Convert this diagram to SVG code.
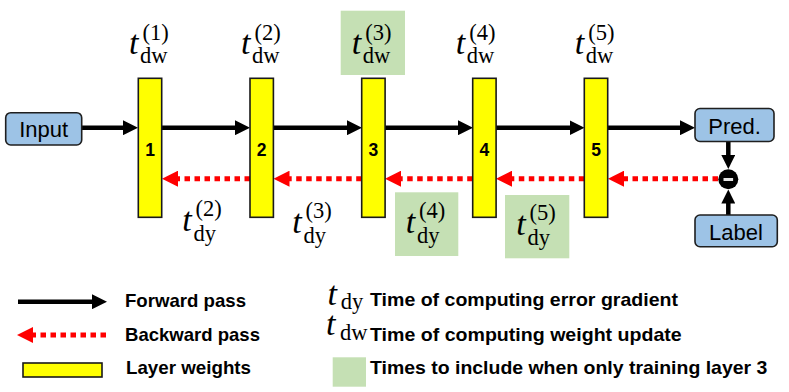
<svg xmlns="http://www.w3.org/2000/svg" width="789" height="392" viewBox="0 0 789 392">
<style>
.bar{fill:#FFFF00;stroke:#1a1a1a;stroke-width:1.6}
.box{fill:#9DC3E6;stroke:#1f1f1f;stroke-width:1.6}
.hl{fill:#C5E0B4}
.fw{stroke:#000;stroke-width:4.5;fill:none}
.bw{stroke:#FF0000;stroke-width:5;fill:none;stroke-dasharray:5.5 4.5}
.num{font-family:"Liberation Sans",Arial,sans-serif;font-weight:bold;font-size:17.5px;text-anchor:middle;fill:#000}
.lbl{font-family:"Liberation Sans",Arial,sans-serif;font-size:22px;text-anchor:middle;fill:#000}
.leg{font-family:"Liberation Sans",Arial,sans-serif;font-weight:bold;font-size:19px;fill:#000}
.m{font-family:"Liberation Serif","Times New Roman",serif;font-size:22.5px;fill:#000}
.mt{font-style:italic;font-size:34px}
</style>
<defs>
<marker id="ah" markerUnits="userSpaceOnUse" markerWidth="15" markerHeight="15" refX="5" refY="7.5" orient="auto">
<path d="M0,0 L15,7.5 L0,15 z" fill="#000"/>
</marker>
<marker id="ahs" markerUnits="userSpaceOnUse" markerWidth="14" markerHeight="14" refX="4" refY="7" orient="auto">
<path d="M0,0 L14,7 L0,14 z" fill="#000"/>
</marker>
<marker id="rh" markerUnits="userSpaceOnUse" markerWidth="16" markerHeight="16" refX="4" refY="8" orient="auto">
<path d="M0,0 L16,8 L0,16 z" fill="#FF0000"/>
</marker>
</defs>

<g id="highlights">
<rect class="hl" x="340.7" y="10.7" width="64.3" height="64.3"/>
<rect class="hl" x="395" y="192.3" width="63.3" height="63.7"/>
<rect class="hl" x="505" y="195" width="64.3" height="63.3"/>
</g>

<g id="connectors">
<line class="fw" x1="82" y1="127.7" x2="128" y2="127.7" marker-end="url(#ah)"/>
<line class="fw" x1="162" y1="127.7" x2="240" y2="127.7" marker-end="url(#ah)"/>
<line class="fw" x1="273.5" y1="127.7" x2="352" y2="127.7" marker-end="url(#ah)"/>
<line class="fw" x1="385" y1="127.7" x2="463" y2="127.7" marker-end="url(#ah)"/>
<line class="fw" x1="496" y1="127.7" x2="574.5" y2="127.7" marker-end="url(#ah)"/>
<line class="fw" x1="608" y1="127.7" x2="685" y2="127.7" marker-end="url(#ah)"/>
<line class="fw" x1="728.3" y1="141.5" x2="728.3" y2="159" marker-end="url(#ahs)"/>
<line class="fw" x1="728.3" y1="215" x2="728.3" y2="199.5" marker-end="url(#ahs)"/>
<line class="bw" x1="718" y1="178.7" x2="620" y2="178.7" marker-end="url(#rh)"/>
<line class="bw" x1="584.3" y1="178.7" x2="508" y2="178.7" marker-end="url(#rh)"/>
<line class="bw" x1="472.7" y1="178.7" x2="397" y2="178.7" marker-end="url(#rh)"/>
<line class="bw" x1="361.7" y1="178.7" x2="285.5" y2="178.7" marker-end="url(#rh)"/>
<line class="bw" x1="250" y1="178.7" x2="174" y2="178.7" marker-end="url(#rh)"/>
</g>

<g id="input"><rect class="box" x="5.7" y="112.7" width="76" height="32.3" rx="5"/><text class="lbl" x="43.7" y="136.5">Input</text></g>
<g id="pred"><rect class="box" x="695" y="108.5" width="79" height="33" rx="5"/><text class="lbl" x="734.5" y="133.5">Pred.</text></g>
<g id="label"><rect class="box" x="695" y="215" width="82.3" height="31.7" rx="5"/><text class="lbl" x="736" y="239.5">Label</text></g>
<g id="minus"><circle cx="728.3" cy="179.3" r="10" fill="#000"/><rect x="723.5" y="178" width="9.6" height="3" fill="#e6e6e6"/></g>

<g id="layer1"><rect class="bar" x="138.3" y="78.3" width="23.4" height="139"/><text class="num" x="150" y="156">1</text></g>
<g id="layer2"><rect class="bar" x="250" y="78.3" width="23.4" height="139"/><text class="num" x="261.7" y="156">2</text></g>
<g id="layer3"><rect class="bar" x="361.7" y="78.3" width="23.4" height="139"/><text class="num" x="373.4" y="156">3</text></g>
<g id="layer4"><rect class="bar" x="472.7" y="78.3" width="23.4" height="139"/><text class="num" x="484.4" y="156">4</text></g>
<g id="layer5"><rect class="bar" x="584.3" y="78.3" width="23.4" height="139"/><text class="num" x="596" y="156">5</text></g>

<g id="tdw1"><text class="m"><tspan class="mt" x="129" y="54">t</tspan><tspan x="140" y="63">dw</tspan><tspan x="142.5" y="40">(1)</tspan></text></g>
<g id="tdw2"><text class="m"><tspan class="mt" x="241" y="54">t</tspan><tspan x="252" y="63">dw</tspan><tspan x="254.5" y="40">(2)</tspan></text></g>
<g id="tdw3"><text class="m"><tspan class="mt" x="351.7" y="54">t</tspan><tspan x="362.7" y="63">dw</tspan><tspan x="365.2" y="40">(3)</tspan></text></g>
<g id="tdw4"><text class="m"><tspan class="mt" x="455.7" y="54">t</tspan><tspan x="466.7" y="63">dw</tspan><tspan x="469.2" y="40">(4)</tspan></text></g>
<g id="tdw5"><text class="m"><tspan class="mt" x="574.7" y="54">t</tspan><tspan x="585.7" y="63">dw</tspan><tspan x="588.2" y="40">(5)</tspan></text></g>

<g id="tdy2"><text class="m"><tspan class="mt" x="182.3" y="231">t</tspan><tspan x="193.5" y="241">dy</tspan><tspan x="195.5" y="216">(2)</tspan></text></g>
<g id="tdy3"><text class="m"><tspan class="mt" x="292.3" y="233">t</tspan><tspan x="303.5" y="243">dy</tspan><tspan x="305.5" y="218">(3)</tspan></text></g>
<g id="tdy4"><text class="m"><tspan class="mt" x="405.7" y="233">t</tspan><tspan x="417" y="243">dy</tspan><tspan x="419" y="218">(4)</tspan></text></g>
<g id="tdy5"><text class="m"><tspan class="mt" x="516.3" y="235">t</tspan><tspan x="527.5" y="245">dy</tspan><tspan x="529.5" y="220">(5)</tspan></text></g>

<g id="legend">
<line class="fw" x1="18" y1="301.7" x2="97" y2="301.7" marker-end="url(#ah)"/>
<text class="leg" x="125" y="306.5" textLength="121" lengthAdjust="spacingAndGlyphs">Forward pass</text>
<line class="bw" x1="106" y1="335" x2="29" y2="335" marker-end="url(#rh)"/>
<text class="leg" x="125" y="341" textLength="135" lengthAdjust="spacingAndGlyphs">Backward pass</text>
<rect class="bar" x="23" y="363" width="79" height="14"/>
<text class="leg" x="126" y="373.5" textLength="125" lengthAdjust="spacingAndGlyphs">Layer weights</text>
<text class="m"><tspan class="mt" x="327.5" y="305">t</tspan><tspan x="340.7" y="309">dy</tspan></text>
<text class="leg" x="370" y="305.5" textLength="308" lengthAdjust="spacingAndGlyphs">Time of computing error gradient</text>
<text class="m"><tspan class="mt" x="326" y="335">t</tspan><tspan x="340" y="340">dw</tspan></text>
<text class="leg" x="370" y="340.5" textLength="311.7" lengthAdjust="spacingAndGlyphs">Time of computing weight update</text>
<rect class="hl" x="332.7" y="357.3" width="33.3" height="29.4"/>
<text class="leg" x="370" y="373.5" textLength="397.3" lengthAdjust="spacingAndGlyphs">Times to include when only training layer 3</text>
</g>
</svg>
